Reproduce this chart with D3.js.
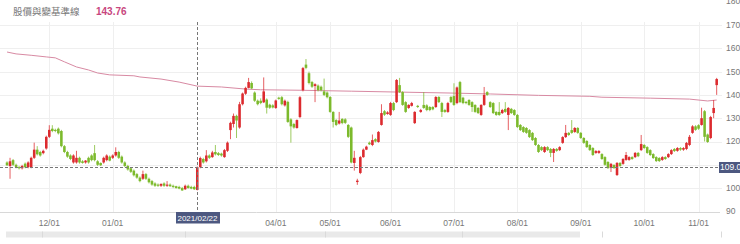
<!DOCTYPE html>
<html>
<head>
<meta charset="utf-8">
<script src="https://cdn.jsdelivr.net/npm/d3@7"></script>
<style>
    body { margin: 0; background: #fff; }
    svg { display: block; font-family: "Liberation Sans", Arial, "Noto Sans CJK TC", sans-serif; }
</style>
</head>
<body>
<svg id="k_svg" width="740" height="244"></svg>
<script>

// daily candles, oldest first
var opens = [
    111,109.5,112,110,109,108.5,110.5,109,109,113,
    116.5,115.5,115,117,122,125.5,125,125.5,124.5,118,
    115.5,114,111,111,113,111.5,111,113,114,115,
    111.5,110.8,111,112,113.5,113,114,115.5,113.5,111,
    109.5,108.5,107.5,106,104.5,104,106,104,103,102,
    101.5,101,102,101,101.5,101,100.8,100.5,100,99.5,
    101,100.5,100.5,99.2,109,112.5,111.5,114,113.3,115.5,
    115,114.8,113.3,116,124.9,127.5,131,126,136,140.5,
    143,145.1,141,137.5,137.5,136.8,138,135.8,135.5,134.4,
    138.8,139,135.5,137,129.5,127.5,125.8,130.5,142,153,
    149.3,145.5,143.8,144,143.5,141.5,141,139.1,132.7,129.2,
    127.7,129.7,129.5,127.1,126,110.8,102.6,106.5,113.3,116.5,
    119.5,118.5,121,119.8,127.1,133,131.8,131.4,136.5,136.9,
    144.2,141.2,136.9,134.4,135.3,127.9,135.3,132.7,135.7,135.5,
    134.8,134.8,134.8,139.1,136.5,133.5,132.7,139.1,139.5,136.5,
    145.5,138.8,137,137.8,136.9,135.7,134.4,131.4,135.7,141.2,
    136.9,136.5,132.7,132.7,132.2,134,131.4,134,133.5,131.4,
    127.1,126.2,125.8,124.9,123.7,121.5,118.5,117.6,115.5,117.6,
    116.8,115.1,116.8,116.3,119.4,121.9,123.7,124.9,124.1,125.8,
    123.7,121.5,120.2,118.5,117.2,115.1,115.1,114.6,113.3,111.2,
    108.6,109.9,105.6,110.8,110.4,112.1,112.1,113.3,113.3,115.1,
    116.3,118.5,117.6,116.3,114.6,113.3,112.9,112.1,113.3,113.3,
    114.6,116.8,116,117.2,116.5,116.8,118.5,123.7,126.5,127,
    127.1,133,123,121.5,132.2,144.2
];
var highs = [
    111.5,113,112.5,110.5,109.5,110,111,111.5,113.5,119.5,
    118,116,116.5,122.5,127,127,125.5,126,125,118.5,
    116,114.5,114.5,116,113.5,112,112,113.5,114.5,118.5,
    112,111,113.5,114.5,114,114.5,117.5,116,114,111.5,
    110,109,108,106.5,105,107.5,106.5,104.5,103.5,102.5,
    102,102,102.5,103,102,101.5,101,101,100.5,101.5,
    101.5,101,101,109.3,113.5,113,116.3,114.5,116,118.5,
    115.5,115.2,116.8,120,128.5,132,131.5,137,141,143.5,
    147.3,145.8,141.5,138,138.5,147.5,138.5,136.2,136,138,
    139.2,139.5,138,137.5,130,128,129.5,139.5,152,155.4,
    150,146,145,144.5,144,147,141.5,139.5,133,129.6,
    132.7,130,130,127.5,126.4,116,104,113.8,117,118.2,
    120,123,121.4,124.5,136,133.5,133,137,137,146.8,
    147.3,141.6,137.3,136,137,133,135.7,134,141.2,136,
    135.2,135.2,139.5,139.5,137,134,137,139.5,145,143.6,
    146,139.2,137.4,138.2,137.3,136,134.8,136,143.4,141.6,
    137.3,136.9,133,136.9,134,136.9,134.8,134.4,133.9,131.8,
    127.5,126.6,126.2,125.3,124.1,121.9,118.9,118,118,118,
    117.2,117.2,117.2,118,122.3,127.1,124.1,129.2,126.2,126.2,
    124.1,121.9,120.6,118.9,117.6,116.3,116.3,115,113.7,111.6,
    110.8,110.3,111.2,111.2,112.9,115.5,113.7,113.7,115.5,115.5,
    122.8,118.9,118,116.7,115,113.7,113.3,113.7,113.7,115,
    116.7,117.2,117.6,117.6,117.6,119.8,122.8,127,127,127.4,
    134.5,133.5,123.4,131,137.8,147.3
];
var lows = [
    109.5,104,109.5,108.5,108,108,108.5,108.5,108.5,112.5,
    114,113.5,114.5,116.5,121.5,124,124,123,117.5,115,
    113,112,110.5,110.5,110.5,110.5,110.5,110.5,111.5,111.5,
    109.5,109.5,110.5,111.5,111.5,112.5,113.5,112.5,110.5,109,
    107.5,106.5,105,104,102.5,103.5,103.5,102,101,100.5,
    100.5,100.5,100.5,100.5,100.5,100,99.8,99.5,98.8,99.2,
    99.8,99.5,99.2,99,108.5,110.5,111,112.5,113,114,
    113.8,113.5,113,115.5,121,126,121.5,125.5,135.5,140,
    142.8,142.5,137,135.5,136,136.5,132,134,134.2,134,
    137.9,135.5,135,128,119.5,125.5,125.5,130,141.5,151,
    144.5,143,136.9,141.5,141.5,139.5,138.5,132.3,126,126.6,
    127.3,127.4,127.5,121.5,110.6,107.5,101.4,106,113,116.3,
    118.5,118,119.6,119.5,126.8,131,131.5,131,133,136.5,
    140.8,135.3,132.3,134,135,127.5,134.4,132.3,134,133,
    133,133.4,134.4,136.5,130.5,132.3,132.3,136.5,135.3,136,
    136.5,136,136,135.3,132.7,132.3,131.8,131,135.3,139.6,
    134.4,131.8,131,131,131.8,132.3,124.9,131.8,131,125.8,
    124.5,123.7,123.3,121.5,120.2,118.1,115.1,115.9,115.1,115.9,
    113.3,111.2,115.6,115.9,119,121.5,122.4,123.3,123.7,123.3,
    121.1,119,117.2,115.9,113.8,114.7,114.7,112.1,109.6,108.2,
    106.9,108.2,105.2,109.1,110,111.7,111.7,112.1,112.9,113.3,
    115.9,116.8,114.7,113.8,112.5,111.2,111.2,111.7,112.1,112.9,
    114.2,115.5,115.6,116,116,116.3,118,123.3,124.6,125,
    126.8,120,119.4,121,130,140
];
var closes = [
    109.8,111.5,110,109,108.5,109.5,109,111,113,116.5,
    114.5,114,116,122,125,124.5,124.5,123.5,118,115.5,
    113.5,112.5,114,113,111,110.8,111.8,111,112,112,
    110,109.8,113,114,111.8,114,115.5,113,111,109.5,
    108,107,105.5,104.5,103,106,104,102.5,101.5,101,
    101,101.8,101,101.5,100.8,100.5,100,99.8,99,101,
    100,99.8,99.5,109,112.9,111,114,113,115.3,114.5,
    114.2,114,116.3,119.5,128,131,129,136,140.6,143,
    145.5,142.8,137.5,136,136.5,141.5,134.5,134.5,134.6,137.6,
    138.3,136,137.5,128.4,126.5,126,129.2,139,151.5,151.6,
    145.1,143.5,144.6,142,142,140,139,132.7,128.4,127.1,
    129,127.9,128,122,111,113,103.2,113.3,116.5,117.8,
    118.8,120.6,120,124.1,132.2,131.5,132.5,136.5,133.5,146.4,
    141.2,135.7,132.7,135.7,136.5,132.7,134.8,133.5,134.4,133.5,
    133.5,133.8,139.1,136.9,132.7,132.7,136.5,136.9,135.7,143.2,
    136.9,136.5,136.5,135.7,134.8,132.7,132.2,135.7,140,140,
    134.8,132.2,131.4,131.4,133.5,132.7,134.4,132.2,131.4,126.2,
    124.9,124.1,123.7,121.9,120.6,118.5,115.5,116.3,117.6,116.3,
    115.1,116.8,116,117.6,121.9,123.7,122.8,123.7,125.8,123.7,
    121.5,119.4,117.6,116.3,114.2,115.9,115.9,112.5,110,108.6,
    110.4,108.6,110.8,109.5,112.5,114.2,113.3,112.5,115.1,113.7,
    118.9,117.2,115.1,114.2,112.9,111.6,111.6,113.3,112.5,114.6,
    116.3,115.9,117.2,116.5,117.2,119.4,122,126.5,125,125.5,
    130,122,119.8,130.5,134.4,146.8
];

// baseline (moving average) read at some candles
var maIdx  = [0, 3, 8, 13, 16, 19, 23, 27, 30, 34, 42, 44, 51, 57, 63, 71, 79, 84, 97, 114, 130, 147, 160, 176, 193, 197, 213, 226, 232, 235];
var maVals = [158.4, 157.6, 157.0, 156.3, 155.9, 154.2, 152.0, 150.7, 149.4, 148.6, 148.2, 147.7, 146.8, 145.5, 143.76, 143.4, 142.5, 142.2, 142.0, 141.6, 141.2, 140.8, 140.4, 139.8, 139.4, 139.0, 138.6, 138.2, 137.4, 137.8];

// month ticks (candle index of first trading day)
var tickIdx    = [14, 35, 89, 107, 127, 148, 169, 190, 211, 229];
var tickLabels = ['12/01', '01/01', '04/01', '05/01', '06/01', '07/01', '08/01', '09/01', '10/01', '11/01'];
var yTicks     = [90, 100, 110, 120, 130, 140, 150, 160, 170, 180];

var titleText  = '股價與變基準線';
var hoverIdx   = 63;
var hoverDate  = '2021/02/22';


function DrawKLine() {
    var self = this;

    self.svg = d3.select('#k_svg');
    self.candles = opens.map(function (o, i) {
        return {i: i, o: o, h: highs[i], l: lows[i], c: closes[i]};
    });

    self.init();
}

DrawKLine.prototype.init = function () {
    var self = this;

    self.x = d3.scaleBand()
        .domain(d3.range(self.candles.length))
        .range([5.5, 718.2])
        .paddingInner(0.15)
        .paddingOuter(0.08);

    self.y = d3.scaleLinear()
        .domain([90, 170])
        .range([211.4, 25]);

    self.cx = function (i) { return self.x(i) + self.x.bandwidth() / 2; };
};

DrawKLine.prototype.drawGrid = function () {
    var self = this;
    var g = self.svg.append('g');
    var hoverY = self.y(closes[hoverIdx]);

    g.selectAll('.hgrid')
        .data(yTicks.filter(function (d) { return d > 90 && d <= 170; }))
        .enter().append('line')
        .attr('x1', 0).attr('x2', 722)
        .attr('y1', function (d) { return Math.round(self.y(d)) + 0.5; })
        .attr('y2', function (d) { return Math.round(self.y(d)) + 0.5; })
        .attr('stroke', '#efefef');

    g.selectAll('.vgrid')
        .data(tickIdx)
        .enter().append('line')
        .attr('x1', function (d) { return Math.round(self.cx(d)) + 0.5; })
        .attr('x2', function (d) { return Math.round(self.cx(d)) + 0.5; })
        .attr('y1', 22).attr('y2', 212)
        .attr('stroke', '#efefef');

    // bottom axis line
    g.append('line')
        .attr('x1', 0).attr('x2', 720)
        .attr('y1', 212.5).attr('y2', 212.5)
        .attr('stroke', '#d8d8d8');

    // the label under the crosshair box is hidden
    g.selectAll('.ylab')
        .data(yTicks.filter(function (d) { return Math.abs(self.y(d) - hoverY) > 8; }))
        .enter().append('text')
        .attr('x', 726)
        .attr('y', function (d) { return d === 180 ? 1 : self.y(d); })
        .attr('dy', '0.35em')
        .attr('font-size', 8.5)
        .attr('fill', '#777')
        .text(function (d) { return d; });

    g.selectAll('.xlab')
        .data(tickIdx)
        .enter().append('text')
        .attr('x', function (d) { return self.cx(d); })
        .attr('y', 226)
        .attr('text-anchor', 'middle')
        .attr('font-size', 8.5)
        .attr('fill', '#777')
        .text(function (d, i) { return tickLabels[i]; });

    // navigator strip under the axis
    g.append('rect')
        .attr('x', 6).attr('y', 231.5)
        .attr('width', 574).attr('height', 6)
        .attr('fill', '#e9e9e9');
    g.selectAll('.navmark')
        .data([42, 185, 325, 462, 602, 721])
        .enter().append('line')
        .attr('x1', function (d) { return d + 0.5; })
        .attr('x2', function (d) { return d + 0.5; })
        .attr('y1', 231.5).attr('y2', 237.5)
        .attr('stroke', '#dadada');
};

DrawKLine.prototype.drawCandles = function () {
    var self = this;
    var up = '#dc2a2e', down = '#7cba2c';

    var k = self.svg.append('g').selectAll('.candle')
        .data(self.candles)
        .enter().append('g')
        .classed('candle', true);

    k.append('line')
        .attr('x1', function (d) { return self.cx(d.i); })
        .attr('x2', function (d) { return self.cx(d.i); })
        .attr('y1', function (d) { return self.y(d.h); })
        .attr('y2', function (d) { return self.y(d.l); })
        .attr('stroke', function (d) { return d.c >= d.o ? up : down; })
        .attr('stroke-opacity', 0.75)
        .attr('stroke-width', 1);

    k.append('rect')
        .attr('x', function (d) { return self.x(d.i); })
        .attr('width', self.x.bandwidth())
        .attr('y', function (d) { return self.y(Math.max(d.o, d.c)); })
        .attr('height', function (d) {
            return Math.max(1, Math.abs(self.y(d.o) - self.y(d.c)));
        })
        .attr('fill', function (d) { return d.c >= d.o ? up : down; });
};

DrawKLine.prototype.drawMA = function () {
    var self = this;

    var line = d3.line()
        .x(function (d) { return self.cx(d); })
        .y(function (d, i) { return self.y(maVals[i]); });

    self.svg.append('path')
        .datum(maIdx)
        .attr('d', line)
        .attr('fill', 'none')
        .attr('stroke', '#d88aa3')
        .attr('stroke-width', 1);
};

DrawKLine.prototype.drawCrosshair = function () {
    var self = this;
    var hx = Math.round(self.cx(hoverIdx)) + 0.5;
    var hy = Math.round(self.y(closes[hoverIdx])) + 0.5;
    var g = self.svg.append('g');

    g.append('line')
        .attr('x1', 0).attr('x2', 719)
        .attr('y1', hy).attr('y2', hy)
        .attr('stroke', '#777')
        .attr('stroke-dasharray', '3,2');
    g.append('line')
        .attr('x1', hx).attr('x2', hx)
        .attr('y1', 22).attr('y2', 212)
        .attr('stroke', '#777')
        .attr('stroke-dasharray', '3,2');

    g.append('rect')
        .attr('x', 719).attr('y', hy - 5.5)
        .attr('width', 22).attr('height', 11)
        .attr('fill', '#4d5880');
    g.append('text')
        .attr('x', 720).attr('y', hy)
        .attr('dy', '0.35em')
        .attr('font-size', 8.5)
        .attr('fill', '#fff')
        .text(d3.format('.1f')(closes[hoverIdx]));

    g.append('rect')
        .attr('x', hx - 21.5).attr('y', 212)
        .attr('width', 44).attr('height', 11.5)
        .attr('fill', '#4d5880');
    g.append('text')
        .attr('x', hx).attr('y', 218)
        .attr('dy', '0.35em')
        .attr('text-anchor', 'middle')
        .attr('font-size', 8)
        .attr('fill', '#fff')
        .text(hoverDate);
};

DrawKLine.prototype.drawHeader = function () {
    var self = this;

    self.svg.append('text')
        .attr('x', 13).attr('y', 15)
        .attr('font-size', 9.5)
        .attr('fill', '#777')
        .style('font-family', '"Noto Sans CJK TC", sans-serif')
        .text(titleText);

    self.svg.append('text')
        .attr('x', 96).attr('y', 15)
        .attr('font-size', 10)
        .attr('font-weight', 'bold')
        .attr('fill', '#c8467e')
        .text(d3.format('.2f')(maVals[maIdx.indexOf(hoverIdx)]));
};

var chart = new DrawKLine();
chart.drawGrid();
chart.drawMA();
chart.drawCandles();
chart.drawCrosshair();
chart.drawHeader();

</script>
</body>
</html>
